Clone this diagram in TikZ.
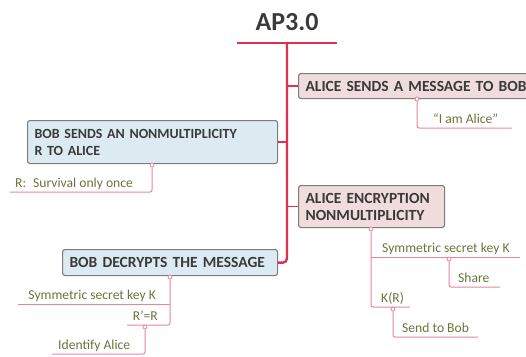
\documentclass[tikz,border=0pt]{standalone}
\usepackage{fontspec}
\setmainfont{Carlito}
\newfontfamily\topicfamily[WordSpace=0.6]{Carlito}
\usetikzlibrary{positioning}
\definecolor{trunkred}{HTML}{E0304E}
\definecolor{twigpink}{HTML}{E98599}
\definecolor{leafgreen}{HTML}{66763C}
\definecolor{alicefill}{HTML}{F1DCDD}
\definecolor{bobfill}{HTML}{DCEAF2}
\definecolor{boxline}{HTML}{7C7C7C}
\definecolor{inkgray}{HTML}{3A3A3A}

\tikzset{
  topic/.style={draw=boxline, line width=1.1pt, rounded corners=2.5pt,
    font=\topicfamily\bfseries\fontsize{15.5}{17}\selectfont, text=inkgray,
    align=left, inner xsep=7pt, inner ysep=3pt, anchor=north west},
  alicebox/.style={topic, fill=alicefill},
  bobbox/.style={topic, fill=bobfill},
  leaf/.style={font=\fontsize{13.6}{15}\selectfont, text=leafgreen, inner sep=0pt},
  twig/.style={draw=twigpink, line width=1pt, rounded corners=2pt},
  knob/.style={circle, draw=twigpink, fill=white, line width=0.8pt,
    inner sep=0pt, minimum size=4pt},
  trunk/.style={draw=trunkred, line width=2.4pt},
  limb/.style={draw=trunkred, line width=1.2pt},
}

\begin{document}
\begin{tikzpicture}[x=1pt, y=-1pt]
\useasboundingbox (0,0) rectangle (526,356);
% Title and main trunk
    \node[font=\bfseries\fontsize{26}{30}\selectfont, text=inkgray] (title) at (287,22) {AP3.0};
    \coordinate (barL) at (237,43);
    \coordinate (barR) at (337,43);
    \coordinate (hub) at (287,43);
    \draw[trunk] (barL) -- (barR);
% Topics
    \node[alicebox, text width=240pt, minimum height=25pt] (alicesend) at (298,73) {ALICE SENDS A MESSAGE TO BOB};
    \node[bobbox, font=\topicfamily\bfseries\fontsize{14}{17}\selectfont, text width=236pt, minimum height=43pt] (bobsend) at (27,120) {BOB SENDS AN NONMULTIPLICITY\\R TO ALICE};
    \node[alicebox, text width=132pt, minimum height=42pt] (aliceenc) at (298,185) {ALICE ENCRYPTION\\NONMULTIPLICITY};
    \node[bobbox, text width=201pt, minimum height=26pt] (bobdec) at (62,249) {BOB DECRYPTS THE MESSAGE};
    \draw[trunk, rounded corners=4pt] (hub) |- (bobdec.east);
    \draw[limb] (hub |- alicesend.west) -- (alicesend.west);
    \draw[limb] (hub |- bobsend.east) -- (bobsend.east);
    \draw[limb] (hub |- aliceenc.west) -- (aliceenc.west);
% Alice sends
    \node[knob] (k1) at (417,99) {};
    \coordinate (e1) at (512,128);
    \draw[twig] (k1) |- (e1);
    \node[leaf, anchor=base west] (l1) at (433,123) {“I am Alice”};
% Bob sends
    \node[knob] (k2) at (152,165) {};
    \coordinate (e2) at (10,192);
    \draw[twig] (k2) |- (e2);
    \node[leaf, anchor=base west] (l2) at (15,187) {R:\hspace{7pt}Survival only once};
% Alice encrypts
    \node[knob] (k3) at (371,229) {};
    \coordinate (e3) at (520,257);
    \coordinate (e4) at (410,307);
    \draw[twig] (k3) |- (e4);
    \draw[twig] (k3 |- e3) -- (e3);
    \node[leaf, anchor=base west] (l3) at (382,252) {Symmetric secret key K};
    \node[leaf, anchor=base west] (l4) at (381,302) {K(R)};
    \node[knob] (k4) at (449,259) {};
    \coordinate (e5) at (500,287);
    \draw[twig] (k4) |- (e5);
    \node[leaf, anchor=base west] (l5) at (458,282) {Share};
    \node[knob] (k5) at (393,309) {};
    \coordinate (e6) at (478,337);
    \draw[twig] (k5) |- (e6);
    \node[leaf, anchor=base west] (l6) at (402,332) {Send to Bob};
% Bob decrypts
    \node[knob] (k6) at (170,277) {};
    \coordinate (e7) at (18,304);
    \coordinate (e8) at (127,325);
    \draw[twig] (k6) |- (e8);
    \draw[twig] (k6 |- e7) -- (e7);
    \node[leaf, anchor=base east] (l7) at (156,299) {Symmetric secret key K};
    \node[leaf, anchor=base east] (l8) at (158,320) {R’=R};
    \node[knob] (k7) at (145,327) {};
    \coordinate (e9) at (52,354);
    \draw[twig] (k7) |- (e9);
    \node[leaf, anchor=base west] (l9) at (58,349) {Identify Alice};
\end{tikzpicture}
\end{document}
